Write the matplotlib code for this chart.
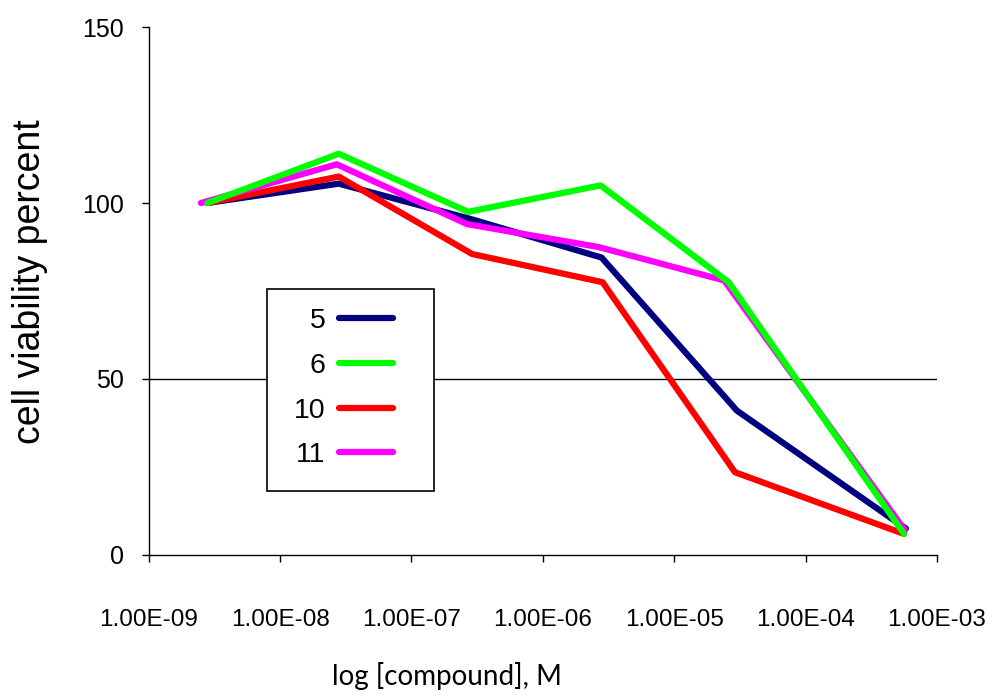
import matplotlib
matplotlib.use("Agg")
import matplotlib.pyplot as plt
from matplotlib.ticker import FuncFormatter, NullLocator
from matplotlib.patches import Rectangle

plt.rcParams['font.family'] = ['Liberation Sans', 'DejaVu Sans']

# data
compounds = ['5', '6', '10', '11']
colors = ['#000080', '#00ff00', '#ff0000', '#ff00ff']

x_5 = [2.8e-9, 2.8e-8, 2.8e-7, 2.8e-6, 3.0e-5, 5.8e-4]
y_5 = [100, 105.5, 95.5, 84.5, 41, 7.5]

x_6 = [2.8e-9, 2.8e-8, 2.7e-7, 2.75e-6, 2.6e-5, 5.6e-4]
y_6 = [100, 114, 97.5, 105, 77.5, 6]

x_10 = [2.8e-9, 2.8e-8, 2.9e-7, 2.85e-6, 2.9e-5, 5.6e-4]
y_10 = [100, 107.5, 85.5, 77.5, 23.5, 6]

x_11 = [2.5e-9, 2.7e-8, 2.65e-7, 2.65e-6, 2.4e-5, 5.7e-4]
y_11 = [100, 111, 94, 87.5, 78, 7]

x_ticks = [1e-9, 1e-8, 1e-7, 1e-6, 1e-5, 1e-4, 1e-3]
y_ticks = [0, 50, 100, 150]

fig = plt.figure(figsize=(9.94, 6.98), dpi=100)
ax = fig.add_axes([0.1495, 0.2049, 0.7932, 0.7564])

ax.axhline(50, color='black', lw=1.0, zorder=1)

series = {
    '5': (x_5, y_5, 2),
    '6': (x_6, y_6, 5),
    '10': (x_10, y_10, 3),
    '11': (x_11, y_11, 4),
}
handles = []
for name, col in zip(compounds, colors):
    xs, ys, z = series[name]
    ln, = ax.plot(xs, ys, color=col, lw=4.5, zorder=z,
                  solid_capstyle='round', solid_joinstyle='round')
    handles.append(ln)

ax.set_xscale('log')
ax.set_xlim(1e-9, 1e-3)
ax.set_ylim(0, 150)
ax.set_xticks(x_ticks)
ax.xaxis.set_major_formatter(FuncFormatter(lambda v, p: f'{v:.2E}'))
ax.xaxis.set_minor_locator(NullLocator())
ax.set_yticks(y_ticks)

for s in ['top', 'right']:
    ax.spines[s].set_visible(False)
for s in ['left', 'bottom']:
    ax.spines[s].set_linewidth(1.0)

ax.tick_params(axis='both', direction='out', length=5, width=1, colors='black')
ax.tick_params(axis='x', labelsize=17.5, pad=34)
ax.tick_params(axis='y', labelsize=18, pad=13)

# axis titles
fig.text(30 / 994, 1 - 282 / 698, 'cell viability percent', rotation=90,
         ha='center', va='center', fontsize=27)
fig.text(332 / 994, 1 - 685 / 698, 'log [compound], M', ha='left',
         va='baseline', fontsize=20, family=['Lato', 'DejaVu Sans'])

# legend box
box = Rectangle((267 / 994, 1 - 491 / 698), 167 / 994, 202 / 698,
                transform=fig.transFigure, facecolor='white',
                edgecolor='black', lw=1.2, zorder=4)
fig.add_artist(box)
leg = fig.legend(handles, compounds, loc='upper right',
                 bbox_to_anchor=(393 / 994, 1 - 308 / 698),
                 bbox_transform=fig.transFigure, frameon=False,
                 markerfirst=False, fontsize=20.5, handlelength=1.9,
                 handletextpad=0.47, labelspacing=0.66, borderpad=0,
                 borderaxespad=0)
leg.set_zorder(5)

fig.savefig('out.png', dpi=100)
